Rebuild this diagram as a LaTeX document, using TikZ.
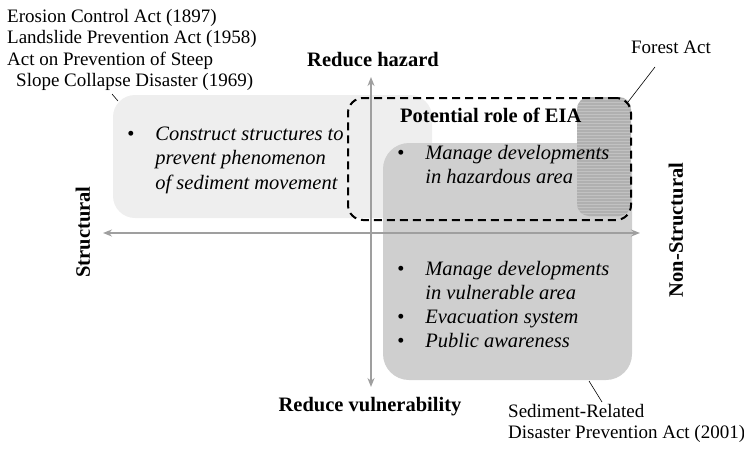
\documentclass[tikz,border=0pt]{standalone}
\usepackage{fontspec}
\setmainfont{Liberation Serif}
\usepackage{tikz}
\usetikzlibrary{arrows.meta, positioning, patterns}

\tikzset{
    zone/.style={rectangle, inner sep=0pt, draw=none},
    axis/.style={draw=gray!75, line width=1.8pt, {Stealth[length=9pt,width=7pt]}-{Stealth[length=9pt,width=7pt]}},
    heading/.style={font=\bfseries\fontsize{20.5}{24}\selectfont},
    law/.style={font=\fontsize{19}{21.5}\selectfont},
    items/.style={font=\itshape\fontsize{20.5}{24.5}\selectfont, inner sep=0pt},
}

\begin{document}
\begin{tikzpicture}[x=1pt, y=-1pt]
    \useasboundingbox (0,0) rectangle (744,448);

    % Quadrant areas
    \node[zone, fill=gray!13, rounded corners=22pt, minimum width=319pt, minimum height=123pt] (struct) at (272.5,156.5) {};
    \node[zone, fill=gray!38, rounded corners=26pt, minimum width=249pt, minimum height=237pt] (nonstruct) at (507.5,261.5) {};
    \node[zone, fill=gray!62, rounded corners=12pt, minimum width=54pt, minimum height=119pt,
          postaction={pattern=horizontal lines, pattern color=gray!48}] (forest) at (604,156.5) {};

    % Axes
    \coordinate (xl) at (103,233);
    \coordinate (xr) at (640,233);
    \coordinate (yt) at (371,77);
    \coordinate (yb) at (371,387);
    \draw[axis] (xl) -- (xr);
    \draw[axis] (yt) -- (yb);

    % Role of EIA
    \node[zone, draw=black, line width=2pt, dash pattern=on 8pt off 5pt, rounded corners=15pt,
          minimum width=283pt, minimum height=122pt] (eia) at (489.5,159) {};

    \node[heading] (hazard) at (373,60) {Reduce hazard};
    \node[heading] (vuln) at (370,407) {Reduce vulnerability};
    \node[heading, rotate=90] (structural) at (83,232) {Structural};
    \node[heading, rotate=90] (nonstructural) at (676,230) {Non-Structural};
    \node[heading, anchor=base west, inner sep=0pt] (eiatitle) at (400,122) {Potential role of EIA};

    % Measures
    \node[items, anchor=base west] (measL) at (127,140) {%
        \begin{tabular}[t]{@{}l@{\hspace{21pt}}l@{}}
            \textbullet & Construct structures to\\
                        & prevent phenomenon\\
                        & of sediment movement
        \end{tabular}};
    \node[items, anchor=base west] (measH) at (397,159) {%
        \begin{tabular}[t]{@{}l@{\hspace{21pt}}l@{}}
            \textbullet & Manage developments\\
                        & in hazardous area
        \end{tabular}};
    \node[items, font=\itshape\fontsize{20.5}{24}\selectfont, anchor=base west] (measV) at (397,275) {%
        \begin{tabular}[t]{@{}l@{\hspace{21pt}}l@{}}
            \textbullet & Manage developments\\
                        & in vulnerable area\\
            \textbullet & Evacuation system\\
            \textbullet & Public awareness
        \end{tabular}};

    % Laws
    \node[law, anchor=base west, inner sep=0pt] (lawsL) at (7,22) {%
        \begin{tabular}[t]{@{}l@{}}
            Erosion Control Act (1897)\\
            Landslide Prevention Act (1958)\\
            Act on Prevention of Steep\\
            \hspace*{9pt}Slope Collapse Disaster (1969)
        \end{tabular}};
    \node[law, anchor=base, inner sep=0pt] (lawF) at (671,53) {Forest Act};
    \node[law, anchor=base west, inner sep=0pt] (lawS) at (508,417) {%
        \begin{tabular}[t]{@{}l@{}}
            Sediment-Related\\
            Disaster Prevention Act (2001)
        \end{tabular}};

    \coordinate (lawLend) at (112,94);
    \coordinate (structtip) at (118,101);
    \coordinate (lawFend) at (655,67);
    \coordinate (foresttip) at (628,102);
    \coordinate (lawSend) at (602,402);
    \coordinate (nonstructtip) at (589,381);
    \draw[line width=0.6pt] (lawLend) -- (structtip);
    \draw[line width=0.6pt] (lawFend) -- (foresttip);
    \draw[line width=0.6pt] (lawSend) -- (nonstructtip);
\end{tikzpicture}
\end{document}
